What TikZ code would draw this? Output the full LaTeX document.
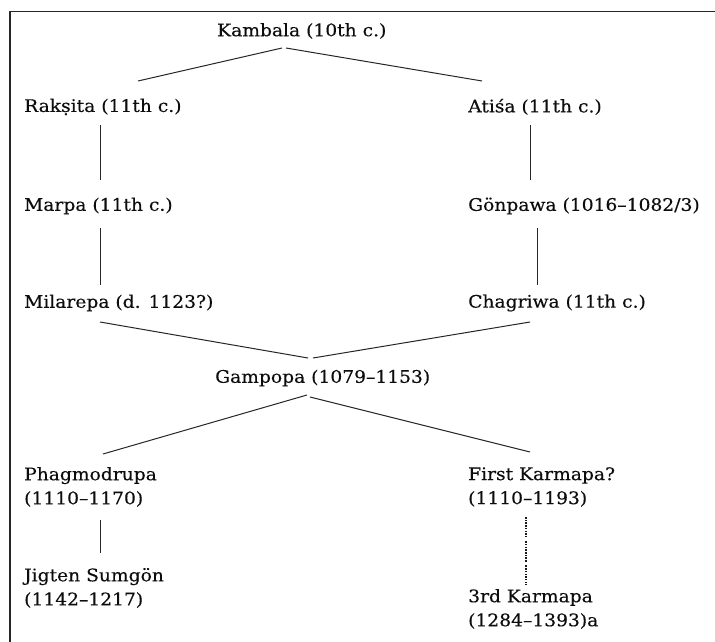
\documentclass[tikz,border=0pt]{standalone}
\usepackage{fontspec}
\setmainfont[FakeStretch=1.08,FakeBold=0.3]{DejaVu Serif}
\usetikzlibrary{calc}
\begin{document}
\begin{tikzpicture}[x=1pt,y=-1pt,
  nm/.style={inner sep=0pt,anchor=west,font=\fontsize{17.3}{24}\selectfont,align=left,text=black!95},
  ln/.style={line width=1pt,draw=black!85},
  dots/.style={line width=2pt,draw=black!90,dash pattern=on 1.5pt off 1.2pt on 1.5pt off 1.2pt on 1.5pt off 1.2pt on 1.5pt off 1.2pt on 1.5pt off 1.2pt on 1.5pt off 1.2pt on 1.5pt off 1.2pt on 1.5pt off 3.8pt}]
\useasboundingbox (0,0) rectangle (715,642);
\draw[line width=1.3pt,black!85] (10,642) -- (10,11.5) -- (715,11.5);
\node[nm] (kam) at (217,31) {Kambala (10th c.)};
\node[nm] (rak) at (24,107) {Rakṣita (11th c.)};
\node[nm] (ati) at (468,107) {Atiśa (11th c.)};
\node[nm] (mar) at (24,206) {Marpa (11th c.)};
\node[nm] (gon) at (468,206) {Gönpawa (1016–1082/3)};
\node[nm] (mil) at (24,303) {Milarepa (d. 1123?)};
\node[nm] (cha) at (468,303) {Chagriwa (11th c.)};
\node[nm] (gam) at (215,378) {Gampopa (1079–1153)};
\node[nm] (pha) at (24,487) {Phagmodrupa\\(1110–1170)};
\node[nm] (kar) at (468,487) {First Karmapa?\\(1110–1193)};
\node[nm] (jig) at (24,588) {Jigten Sumgön\\(1142–1217)};
\node[nm] (kr3) at (468,609) {3rd Karmapa\\(1284–1393)a};
% connectors
\draw[ln] ($(kam.west)+(65,17)$) -- ($(rak.west)+(114,-26)$);
\draw[ln] ($(kam.west)+(69,17)$) -- ($(ati.west)+(14,-26)$);
\draw[ln] ($(rak.west)+(76,18)$) -- ($(mar.west)+(76,-26)$);
\draw[ln] ($(ati.west)+(62,18)$) -- ($(gon.west)+(62,-26)$);
\draw[ln] ($(mar.west)+(76,22)$) -- ($(mil.west)+(76,-18)$);
\draw[ln] ($(gon.west)+(69,22)$) -- ($(cha.west)+(69,-18)$);
\draw[ln] ($(mil.west)+(76,19)$) -- ($(gam.west)+(93,-20)$);
\draw[ln] ($(cha.west)+(62,19)$) -- ($(gam.west)+(98,-20)$);
\draw[ln] ($(gam.west)+(92,17)$) -- ($(pha.west)+(79,-33)$);
\draw[ln] ($(gam.west)+(95,19)$) -- ($(kar.west)+(62,-35)$);
\draw[ln] ($(pha.west)+(76,33)$) -- ($(jig.west)+(76,-35)$);
\draw[dots] ($(kar.west)+(57.5,30)$) -- ($(kr3.west)+(57.5,-24)$);
\end{tikzpicture}
\end{document}
